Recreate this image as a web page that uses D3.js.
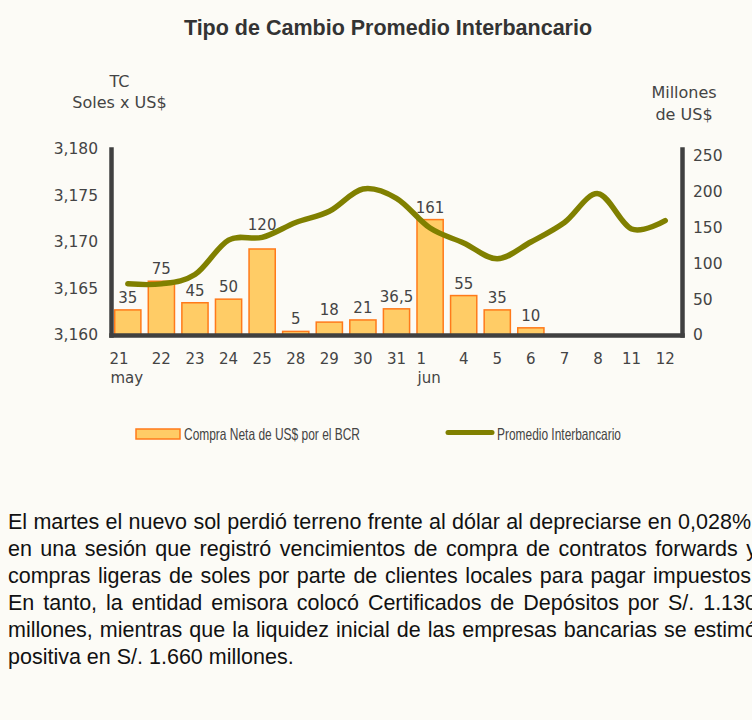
<!DOCTYPE html>
<html>
<head>
<meta charset="utf-8">
<script src="https://cdn.jsdelivr.net/npm/d3@7/dist/d3.min.js"></script>
<style>
  html, body { margin: 0; padding: 0; background: #FCFBF6; width: 752px; height: 720px; overflow: hidden; }
  svg { display: block; }
</style>
</head>
<body>
<svg id="chart" width="752" height="720"></svg>
<script>
// ---------- DATA ----------
const categories = ["21","22","23","24","25","28","29","30","31","1","4","5","6","7","8","11","12"];
const monthLabels = ["may","","","","","","","","","jun","","","","","","",""];
const compraNeta = [35, 75, 45, 50, 120, 5, 18, 21, 36.5, 161, 55, 35, 10, null, null, null, null];
const promedioInterbancario = [3165.5, 3165.5, 3166.5, 3170.2, 3170.5, 3172.1, 3173.3, 3175.7, 3174.7, 3171.5, 3169.9, 3168.2, 3170.0, 3172.1, 3175.2, 3171.4, 3172.3];
const leftTicks = [3160, 3165, 3170, 3175, 3180];
const rightTicks = [0, 50, 100, 150, 200, 250];
const titleText = "Tipo de Cambio Promedio Interbancario";
const leftAxisTitle = ["TC", "Soles x US$"];
const rightAxisTitle = ["Millones", "de US$"];
const legendLabels = ["Compra Neta de US$ por el BCR", "Promedio Interbancario"];
const paragraphLines = [
  "El martes el nuevo sol perdió terreno frente al dólar al depreciarse en 0,028%,",
  "en una sesión que registró vencimientos de compra de contratos forwards y",
  "compras ligeras de soles por parte de clientes locales para pagar impuestos.",
  "En tanto, la entidad emisora colocó Certificados de Depósitos por S/. 1.130",
  "millones, mientras que la liquidez inicial de las empresas bancarias se estimó",
  "positiva en S/. 1.660 millones."
];

// ---------- STYLE ----------
const chartFont = "'DejaVu Sans', Verdana, sans-serif";
const textColor = "#444444";
const barFill = "#FFCC66";
const barStroke = "#FF7A1A";
const lineColor = "#808000";
const axisColor = "#404040";

const svg = d3.select("#chart");

// ---------- SCALES ----------
const plot = { left: 111, right: 682, top: 149, bottom: 335 };
const x = d3.scaleBand().domain(categories).range([plot.left, plot.right])
  .paddingInner(0.22).paddingOuter(0.11);
const yL = d3.scaleLinear().domain([3160, 3180]).range([plot.bottom, plot.top]);
const yR = d3.scaleLinear().domain([0, 259.5]).range([plot.bottom, plot.top]);
const cx = i => x(categories[i]) + x.bandwidth() / 2;

// ---------- TITLE ----------
svg.append("text")
  .attr("x", 388).attr("y", 35)
  .attr("text-anchor", "middle")
  .style("font-family", "'Liberation Sans', Arial, sans-serif")
  .style("font-weight", "bold").style("font-size", "21.5px")
  .style("fill", "#333333")
  .text(titleText);

// ---------- AXIS TITLES ----------
const axTitle = (lines, cxPos, y0) => {
  lines.forEach((t, i) => {
    svg.append("text").attr("x", cxPos).attr("y", y0 + i * 21.5)
      .attr("text-anchor", "middle")
      .style("font-family", chartFont).style("font-size", "16px")
      .style("fill", textColor).text(t);
  });
};
axTitle(leftAxisTitle, 119.5, 86.5);
axTitle(rightAxisTitle, 684, 98);

// ---------- BARS ----------
const barData = compraNeta.map((v, i) => ({ i, v })).filter(d => d.v != null);
svg.append("g").selectAll("rect").data(barData).join("rect")
  .attr("x", d => x(categories[d.i]))
  .attr("width", x.bandwidth())
  .attr("y", d => yR(d.v))
  .attr("height", d => yR(0) - yR(d.v))
  .attr("fill", barFill)
  .attr("stroke", barStroke)
  .attr("stroke-width", 1.5);

// ---------- AXES ----------
const styleAxis = g => {
  g.select(".domain").attr("stroke", axisColor).attr("stroke-width", 4.5).attr("stroke-linecap", "square");
  g.selectAll("text").style("font-family", chartFont).style("font-size", "15.5px").style("fill", textColor);
};
svg.append("g").attr("transform", `translate(${plot.left},0)`)
  .call(d3.axisLeft(yL).tickValues(leftTicks).tickSize(0).tickSizeOuter(0).tickPadding(13).tickFormat(d3.format(",")))
  .call(styleAxis);
svg.append("g").attr("transform", `translate(${plot.right},0)`)
  .call(d3.axisRight(yR).tickValues(rightTicks).tickSize(0).tickSizeOuter(0).tickPadding(11).tickFormat(d3.format("d")))
  .call(styleAxis);
svg.append("g").attr("transform", `translate(0,${plot.bottom})`)
  .call(d3.axisBottom(x).tickSize(0).tickSizeOuter(0).tickFormat(""))
  .call(styleAxis);

// x category labels
const xl = svg.append("g").style("font-family", chartFont).style("font-size", "15px").style("fill", textColor);
categories.forEach((c, i) => {
  const m = monthLabels[i];
  if (m) {
    const mt = xl.append("text").attr("y", 383).text(m);
    const w = mt.node().getComputedTextLength();
    const x0 = cx(i) - w / 2;
    mt.attr("x", x0 - 1);
    xl.append("text").attr("x", x0 - 2).attr("y", 364).text(c);
  } else {
    xl.append("text").attr("x", cx(i)).attr("y", 364).attr("text-anchor", "middle").text(c);
  }
});

// ---------- LINE ----------
const line = d3.line()
  .x((d, i) => cx(i))
  .y(d => yL(d))
  .curve(d3.curveCardinal.tension(0));
svg.append("path")
  .datum(promedioInterbancario)
  .attr("d", line)
  .attr("fill", "none")
  .attr("stroke", lineColor)
  .attr("stroke-width", 5.5)
  .attr("stroke-linecap", "round")
  .attr("stroke-linejoin", "round");

// ---------- DATA LABELS ----------
const fmtLocale = d3.formatLocale({ decimal: ",", thousands: ".", grouping: [3], currency: ["", ""] });
const fmtVal = v => Number.isInteger(v) ? String(v) : fmtLocale.format(".1f")(v);
const labelGap = 7, labelH = 11, lineHalf = 4;
svg.append("g").selectAll("text").data(barData).join("text")
  .attr("x", d => cx(d.i))
  .attr("y", d => {
    let base = yR(d.v) - labelGap;
    const ly = yL(promedioInterbancario[d.i]);
    if (base > ly - lineHalf && base - labelH < ly + lineHalf) base = ly - lineHalf - 3;
    return base;
  })
  .attr("text-anchor", "middle")
  .style("font-family", chartFont).style("font-size", "15px").style("fill", textColor)
  .text(d => fmtVal(d.v));

// ---------- LEGEND ----------
const lg = svg.append("g");
lg.append("rect").attr("x", 136).attr("y", 429).attr("width", 44).attr("height", 10)
  .attr("fill", barFill).attr("stroke", barStroke).attr("stroke-width", 1.5);
lg.append("text").attr("x", 184).attr("y", 440)
  .attr("textLength", 176).attr("lengthAdjust", "spacingAndGlyphs")
  .style("font-family", "'Liberation Sans Narrow', 'Liberation Sans', Arial, sans-serif")
  .style("font-size", "16.5px").style("fill", textColor)
  .text(legendLabels[0]);
lg.append("line").attr("x1", 448).attr("x2", 492).attr("y1", 432.5).attr("y2", 432.5)
  .attr("stroke", lineColor).attr("stroke-width", 5).attr("stroke-linecap", "round");
lg.append("text").attr("x", 497).attr("y", 440)
  .attr("textLength", 124).attr("lengthAdjust", "spacingAndGlyphs")
  .style("font-family", "'Liberation Sans Narrow', 'Liberation Sans', Arial, sans-serif")
  .style("font-size", "16.5px").style("fill", textColor)
  .text(legendLabels[1]);

// ---------- PARAGRAPH ----------
const para = svg.append("g")
  .style("font-family", "'Liberation Sans', Arial, sans-serif")
  .style("font-size", "21.5px").style("fill", "#111111");
const paraLeft = 8, paraRight = 757;
paragraphLines.forEach((t, i) => {
  const tx = para.append("text").attr("x", paraLeft).attr("y", 529 + i * 27).text(t);
  if (i < paragraphLines.length - 1) {
    const w = tx.node().getComputedTextLength();
    const spaces = (t.match(/ /g) || []).length;
    if (spaces > 0) tx.attr("word-spacing", ((paraRight - paraLeft) - w) / spaces);
  }
});
</script>
</body>
</html>
